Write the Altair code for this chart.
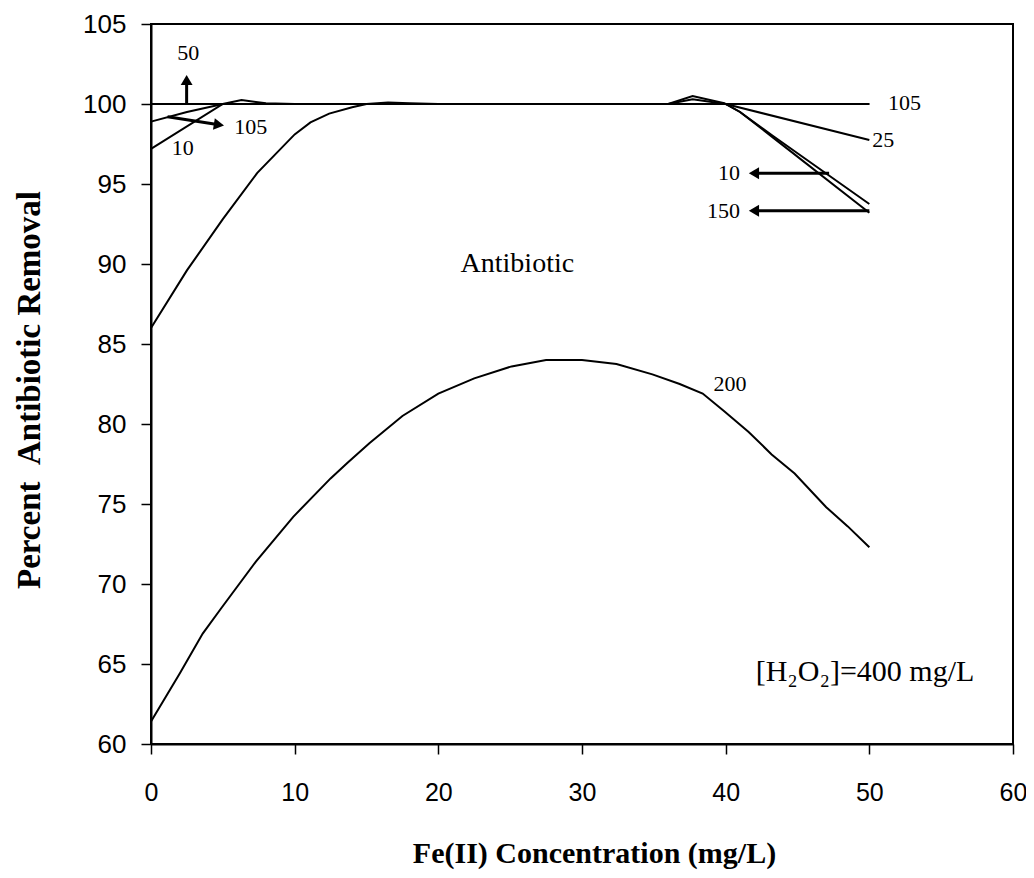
import altair as alt
import pandas as pd

# ---- data ----
s200_x = [0, 2.0, 3.6, 4.9, 7.3, 9.9, 12.5, 13.7, 15.2, 17.5, 20.0, 22.5, 25.1, 27.5, 30.0,
          32.4, 34.9, 36.8, 38.4, 39.9, 41.6, 43.2, 44.8, 47.0, 48.5, 50.0]
s200_y = [61.4, 64.4, 66.9, 68.5, 71.4, 74.2, 76.6, 77.6, 78.8, 80.5, 81.9, 82.85, 83.6, 84.0, 84.0,
          83.75, 83.1, 82.5, 81.9, 80.8, 79.5, 78.1, 76.9, 74.8, 73.6, 72.3]

s150_x = [0, 2.5, 5.0, 7.4, 10.0, 11.1, 12.4, 14.0, 15.0, 16.5, 18.0, 20.0, 40.0, 41.0, 43.3, 50.0]
s150_y = [86.0, 89.6, 92.8, 95.7, 98.1, 98.85, 99.4, 99.8, 100.0, 100.1, 100.05, 100.0, 100.0, 99.5, 97.9, 93.2]

s10_x = [0, 5.0, 6.3, 8.0, 10.0, 36.0, 37.7, 39.9, 41.0, 43.3, 50.0]
s10_y = [97.2, 100.0, 100.25, 100.05, 100.0, 100.0, 100.5, 100.05, 99.5, 98.0, 93.75]

s25_x = [0, 2.5, 5.0, 36.0, 37.7, 40.0, 50.0]
s25_y = [98.9, 99.5, 100.0, 100.0, 100.3, 100.0, 97.75]

s50_x = [0, 50]
s50_y = [100, 100]

s105_x = [0, 50]
s105_y = [100, 100]

series = {"200": (s200_x, s200_y), "150": (s150_x, s150_y), "10": (s10_x, s10_y),
          "25": (s25_x, s25_y), "50": (s50_x, s50_y), "105": (s105_x, s105_y)}

# annotation arrows (data coordinates)
arrow_x = [2.48, 1.15, 47.2, 50.0]
arrow_y = [100.0, 99.2, 95.67, 93.33]
arrow_x2 = [2.48, 4.73, 41.97, 41.97]
arrow_y2 = [101.5, 98.7, 95.67, 93.33]
arrow_angle = [0, 99, 270, 270]

# text labels
lab_text = ["50", "105", "10", "105", "25", "10", "150", "200", "Antibiotic", "[H\u2082O\u2082]=400 mg/L"]
lab_x = [2.6, 5.8, 1.44, 51.3, 50.2, 41.0, 41.0, 40.3, 25.5, 49.7]
lab_y = [103.2, 98.55, 97.23, 100.05, 97.75, 95.67, 93.33, 82.5, 90.0, 64.5]
lab_align = ["center", "left", "left", "left", "left", "right", "right", "center", "center", "center"]
lab_size = [22, 22, 22, 22, 22, 22, 22, 22, 28, 30]

# ---- tables ----
rows = []
for name, (xs, ys) in series.items():
    for xv, yv in zip(xs, ys):
        rows.append({"series": name, "x": xv, "y": yv})
lines_df = pd.DataFrame(rows)

arrows_df = pd.DataFrame({"x": arrow_x, "y": arrow_y, "x2": arrow_x2, "y2": arrow_y2, "angle": arrow_angle})
labels_df = pd.DataFrame({"text": lab_text, "x": lab_x, "y": lab_y, "align": lab_align, "size": lab_size})

xscale = alt.Scale(domain=[0, 60], nice=False, zero=False)
yscale = alt.Scale(domain=[60, 105], nice=False, zero=False)

xaxis = alt.Axis(values=[0, 10, 20, 30, 40, 50, 60], grid=False, labelFont="Liberation Sans",
                 labelFontSize=25, labelColor="black", labelPadding=26, tickSize=10, tickColor="black",
                 tickWidth=1.5, domainColor="black", domainWidth=2, labelFlush=False,
                 title="Fe(II) Concentration (mg/L)", titleFont="Liberation Serif", titleFontWeight="bold",
                 titleFontSize=30, titleColor="black", titleX=443, titleY=118, titleBaseline="alphabetic",
                 titleAlign="center")
yaxis = alt.Axis(values=[60, 65, 70, 75, 80, 85, 90, 95, 100, 105], grid=False, labelFont="Liberation Sans",
                 labelFontSize=26, labelColor="black", labelPadding=15, tickSize=10, tickColor="black",
                 tickWidth=1.5, domainColor="black", domainWidth=2, labelFlush=False,
                 title="Percent\u00a0\u00a0Antibiotic Removal", titleFont="Liberation Serif",
                 titleFontWeight="bold", titleFontSize=33, titleColor="black", titleAngle=270,
                 titleX=-112, titleY=365.5, titleBaseline="alphabetic", titleAlign="center")

lines = alt.Chart(lines_df).mark_line(color="black", strokeWidth=2).encode(
    x=alt.X("x:Q", scale=xscale, axis=xaxis),
    y=alt.Y("y:Q", scale=yscale, axis=yaxis),
    detail="series:N",
)

shafts = alt.Chart(arrows_df).mark_rule(color="black", strokeWidth=3).encode(
    x="x:Q", y="y:Q", x2="x2:Q", y2="y2:Q"
)
heads = alt.Chart(arrows_df).mark_point(shape="triangle-up", filled=True, color="black",
                                        opacity=1, size=140).encode(
    x="x2:Q", y="y2:Q", angle=alt.Angle("angle:Q", scale=None)
)

text_layers = []
for al in ["left", "center", "right"]:
    text_layers.append(
        alt.Chart(labels_df).transform_filter(alt.datum.align == al).mark_text(
            align=al, baseline="middle", font="Liberation Serif", color="black"
        ).encode(x="x:Q", y="y:Q", text="text:N", size=alt.Size("size:Q", scale=None))
    )

chart = alt.layer(lines, shafts, heads, *text_layers).properties(
    width=862, height=720,
    padding={"left": 143, "top": 16, "right": 13, "bottom": 126},
    autosize=alt.AutoSizeParams(type="none"),
).configure_view(stroke="black", strokeWidth=2)

chart.save("out.html", embed_options={"renderer": "svg", "actions": False})
